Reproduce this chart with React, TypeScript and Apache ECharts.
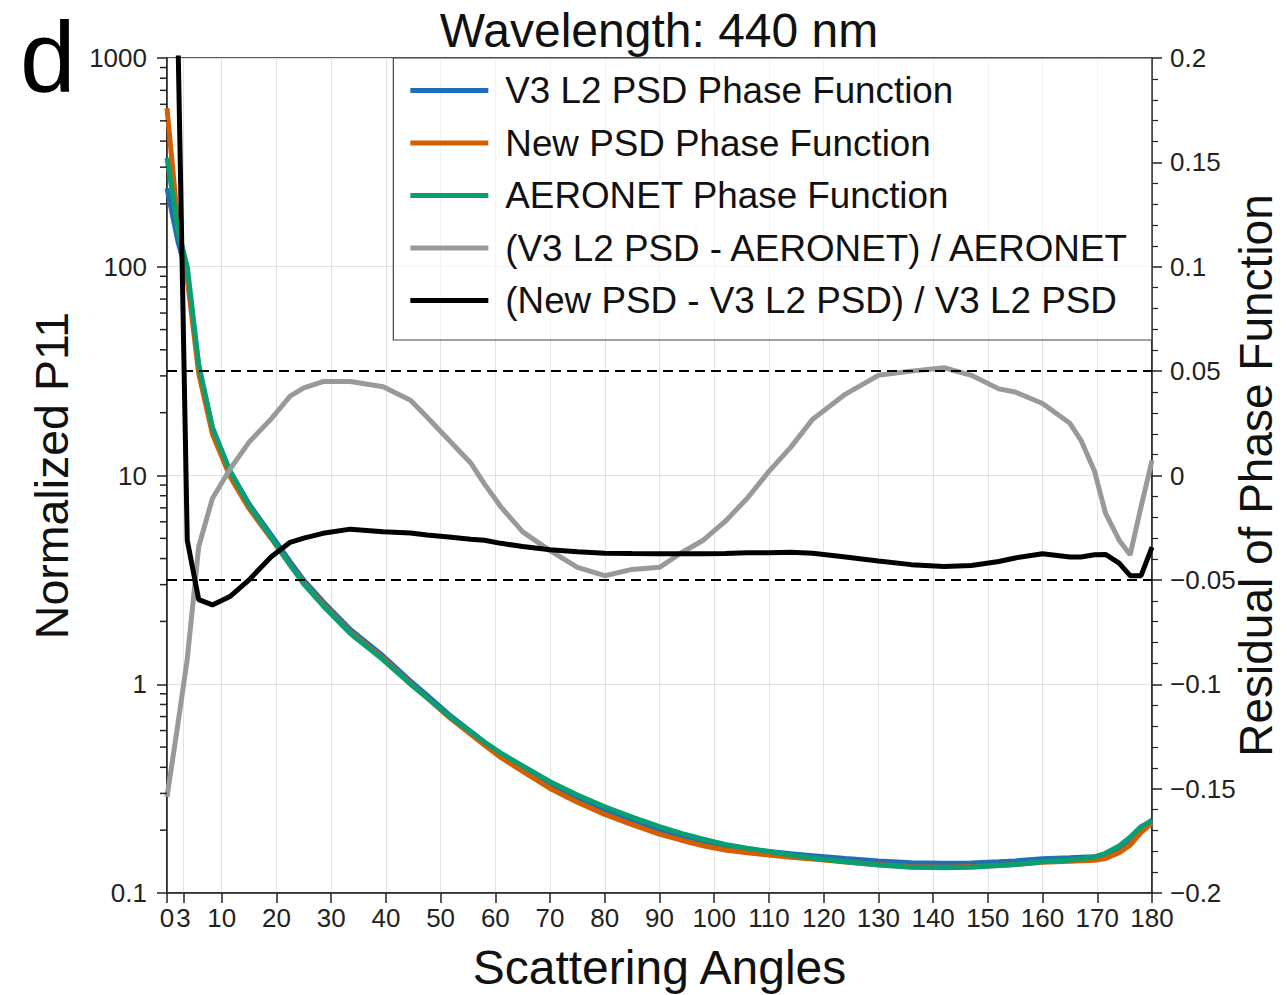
import React, { useEffect, useRef } from 'react';
import * as echarts from 'echarts';

const FONT = 'Liberation Sans';

// Scattering angles (degrees)
const angles = [0, 2, 3.7, 5.8, 8.3, 11.5, 15, 19, 22.5, 25, 28.5, 33.5, 39.5, 44.5, 47.5, 51.5, 55.5, 58, 61, 65, 70, 75, 80, 85, 90, 94, 98, 102, 106, 110, 114, 118, 124, 130, 136, 142, 147, 152, 155, 160, 165, 167, 169.5, 171.5, 174, 176, 178, 180];

// Normalized P11 (left, log axis)
const v3L2Psd = [238, 132, 91, 32.8, 16.8, 10.5, 7.3, 5.21, 3.86, 3.15, 2.49, 1.83, 1.366, 1.036, 0.887, 0.717, 0.594, 0.527, 0.461, 0.395, 0.329, 0.282, 0.247, 0.221, 0.199, 0.186, 0.175, 0.167, 0.162, 0.158, 0.154, 0.151, 0.1465, 0.1425, 0.1397, 0.1388, 0.1394, 0.1411, 0.1425, 0.1459, 0.1476, 0.1485, 0.1493, 0.1522, 0.1628, 0.178, 0.205, 0.2236];
const newPsd = [575, 160, 88.2, 30.8, 15.8, 9.9, 6.94, 5.01, 3.74, 3.06, 2.42, 1.78, 1.329, 1.008, 0.862, 0.696, 0.576, 0.511, 0.446, 0.382, 0.317, 0.272, 0.238, 0.2127, 0.1915, 0.179, 0.1684, 0.1608, 0.156, 0.1522, 0.1483, 0.1454, 0.1408, 0.1367, 0.1337, 0.1327, 0.1334, 0.1353, 0.1369, 0.1404, 0.1418, 0.1427, 0.1436, 0.1464, 0.156, 0.1695, 0.195, 0.216];
const aeronet = [332, 150, 100, 34, 17, 10.5, 7.2, 5.07, 3.72, 3.02, 2.38, 1.75, 1.31, 1.0, 0.863, 0.705, 0.59, 0.529, 0.468, 0.406, 0.341, 0.295, 0.259, 0.231, 0.208, 0.193, 0.181, 0.171, 0.164, 0.158, 0.152, 0.147, 0.141, 0.136, 0.133, 0.132, 0.133, 0.1355, 0.137, 0.141, 0.144, 0.146, 0.149, 0.155, 0.168, 0.185, 0.208, 0.222];

// Residuals (right axis)
const residV3Aeronet = [-0.154, -0.119, -0.088, -0.034, -0.011, 0.003, 0.016, 0.027, 0.038, 0.042, 0.045, 0.045, 0.0425, 0.036, 0.028, 0.017, 0.006, -0.004, -0.015, -0.027, -0.036, -0.044, -0.048, -0.045, -0.044, -0.037, -0.031, -0.022, -0.011, 0.002, 0.0136, 0.027, 0.039, 0.048, 0.05, 0.0516, 0.048, 0.0415, 0.04, 0.0345, 0.025, 0.017, 0.002, -0.018, -0.031, -0.038, -0.015, 0.0072];
const residNewV3 = [0.6, 0.21, -0.031, -0.0595, -0.062, -0.058, -0.05, -0.039, -0.032, -0.03, -0.0277, -0.0257, -0.027, -0.0275, -0.0285, -0.0295, -0.0305, -0.031, -0.0325, -0.034, -0.0356, -0.0365, -0.0372, -0.0374, -0.0375, -0.0375, -0.0375, -0.0374, -0.037, -0.037, -0.0368, -0.0372, -0.039, -0.041, -0.0427, -0.0436, -0.0431, -0.0412, -0.0395, -0.0375, -0.039, -0.039, -0.038, -0.0378, -0.042, -0.048, -0.048, -0.0343];

const residualLimits = [0.05, -0.05];
const xTickValues = [0, 3, 10, 20, 30, 40, 50, 60, 70, 80, 90, 100, 110, 120, 130, 140, 150, 160, 170, 180];
const logMinorTicks = [0.2, 0.3, 0.4, 0.5, 0.6, 0.7, 0.8, 0.9, 2, 3, 4, 5, 6, 7, 8, 9, 20, 30, 40, 50, 60, 70, 80, 90, 200, 300, 400, 500, 600, 700, 800, 900];

const seriesNames = [
  'V3 L2 PSD Phase Function',
  'New PSD Phase Function',
  'AERONET Phase Function',
  '(V3 L2 PSD - AERONET) / AERONET',
  '(New PSD - V3 L2 PSD) / V3 L2 PSD',
];
const seriesColors = ['#1f6fb5', '#d55e00', '#0a9e73', '#999999', '#000000'];

const AX = '#222';

function lineSeries(idx: number, values: number[], yAxisIndex: number, extra: any = {}) {
  const c = seriesColors[idx];
  return {
    name: seriesNames[idx],
    type: 'line',
    xAxisIndex: 0,
    yAxisIndex,
    data: angles.map((a, i) => [a, values[i]]),
    showSymbol: false,
    symbol: 'none',
    color: c,
    itemStyle: { color: c },
    lineStyle: { color: c, width: 5 },
    clip: true,
    ...extra,
  };
}

function fmtRight(v: number) {
  const r = parseFloat(v.toFixed(2));
  if (r === 0) return '0';
  return r < 0 ? '\u2212' + String(-r) : String(r);
}

export default function App() {
  const ref = useRef<HTMLDivElement>(null);
  useEffect(() => {
    const chart = echarts.init(ref.current!, null, { renderer: 'svg' });
    const option: any = {
      animation: false,
      backgroundColor: '#ffffff',
      textStyle: { fontFamily: FONT },
      grid: {
        left: 167, top: 58, width: 985, height: 835,
        outerBoundsMode: 'none',
        containLabel: false,
        show: true, borderColor: AX, borderWidth: 1.5, backgroundColor: 'transparent',
      },
      graphic: [
        {
          type: 'text', x: 20, y: 57, z: 10,
          style: { text: 'd', fontSize: 100, fontFamily: FONT, fill: '#000', verticalAlign: 'middle', textVerticalAlign: 'middle' },
        },
        {
          type: 'text', x: 659, y: 30, z: 10,
          style: { text: 'Wavelength: 440 nm', fontSize: 48, fontFamily: FONT, fill: '#111', align: 'center', textAlign: 'center', verticalAlign: 'middle', textVerticalAlign: 'middle' },
        },
      ],
      legend: {
        data: seriesNames,
        orient: 'vertical',
        right: 135,
        top: 58,
        icon: 'rect',
        itemWidth: 78,
        itemHeight: 5,
        itemGap: 15.5,
        padding: [14, 21, 21, 17],
        borderColor: '#444',
        borderWidth: 1.2,
        backgroundColor: 'rgba(255,255,255,0.6)',
        selectedMode: false,
        textStyle: { fontSize: 36.8, color: '#111', lineHeight: 36, padding: [0, 0, 0, 12], fontFamily: FONT },
      },
      xAxis: {
        type: 'value', min: 0, max: 180, interval: 10,
        name: 'Scattering Angles', nameLocation: 'middle', nameGap: 50,
        nameTextStyle: { fontSize: 48, color: '#111', fontFamily: FONT },
        axisLine: { show: true, onZero: false, lineStyle: { color: AX, width: 1.5 } },
        axisTick: { show: true, length: 10, lineStyle: { color: AX, width: 1.5 }, customValues: xTickValues },
        axisLabel: { fontSize: 26, color: '#222', margin: 12, customValues: xTickValues, hideOverlap: false, fontFamily: FONT },
        splitLine: { show: true, lineStyle: { color: '#e2e2e2', width: 1 } },
      },
      yAxis: [
        {
          type: 'log', logBase: 10, min: 0.1, max: 1000, position: 'left',
          name: 'Normalized P11', nameLocation: 'middle', nameGap: 92, nameRotate: 90,
          nameTextStyle: { fontSize: 46.5, color: '#111', fontFamily: FONT },
          axisLine: { show: true, onZero: false, lineStyle: { color: AX, width: 1.5 } },
          axisTick: { show: true, length: 10, lineStyle: { color: AX, width: 1.5 } },
          axisLabel: { fontSize: 26, color: '#222', margin: 20, fontFamily: FONT, formatter: (v: number) => String(+Number(v).toPrecision(3)) },
          splitLine: { show: true, lineStyle: { color: '#e2e2e2', width: 1 } },
        },
        {
          type: 'value', min: -0.2, max: 0.2, interval: 0.05, position: 'right',
          name: 'Residual of Phase Function', nameLocation: 'middle', nameGap: 81, nameRotate: 90,
          nameMoveOverlap: false,
          nameTextStyle: { fontSize: 46, color: '#111', fontFamily: FONT },
          axisLine: { show: true, onZero: false, lineStyle: { color: AX, width: 1.5 } },
          axisTick: { show: true, length: 10, lineStyle: { color: AX, width: 1.5 } },
          minorTick: { show: true, splitNumber: 5, length: 6, lineStyle: { color: AX, width: 1.2 } },
          axisLabel: { fontSize: 26, color: '#222', margin: 18, fontFamily: FONT, formatter: fmtRight },
          splitLine: { show: false },
        },
      ],
      series: [
        lineSeries(0, v3L2Psd, 0),
        lineSeries(1, newPsd, 0),
        lineSeries(2, aeronet, 0),
        lineSeries(3, residV3Aeronet, 1, {
          markLine: {
            silent: true,
            symbol: 'none',
            label: { show: false },
            lineStyle: { color: '#000', type: [10, 6], width: 2 },
            data: residualLimits.map((v) => ({ yAxis: v })),
          },
        }),
        lineSeries(4, residNewV3, 1),
        {
          type: 'custom',
          name: 'log-minor-ticks',
          xAxisIndex: 0,
          yAxisIndex: 0,
          silent: true,
          clip: false,
          z: 5,
          data: logMinorTicks.map((v) => [0, v]),
          renderItem: (params: any, api: any) => {
            const p = api.coord([0, api.value(1)]);
            return {
              type: 'line',
              shape: { x1: p[0] - 7, y1: p[1], x2: p[0], y2: p[1] },
              style: { stroke: AX, lineWidth: 1.5 },
            };
          },
        },
      ],
    };
    chart.setOption(option);
    return () => chart.dispose();
  }, []);
  return (
    <div
      ref={ref}
      style={{ position: 'fixed', left: 0, top: 0, width: 1287, height: 995, background: '#fff' }}
    />
  );
}
